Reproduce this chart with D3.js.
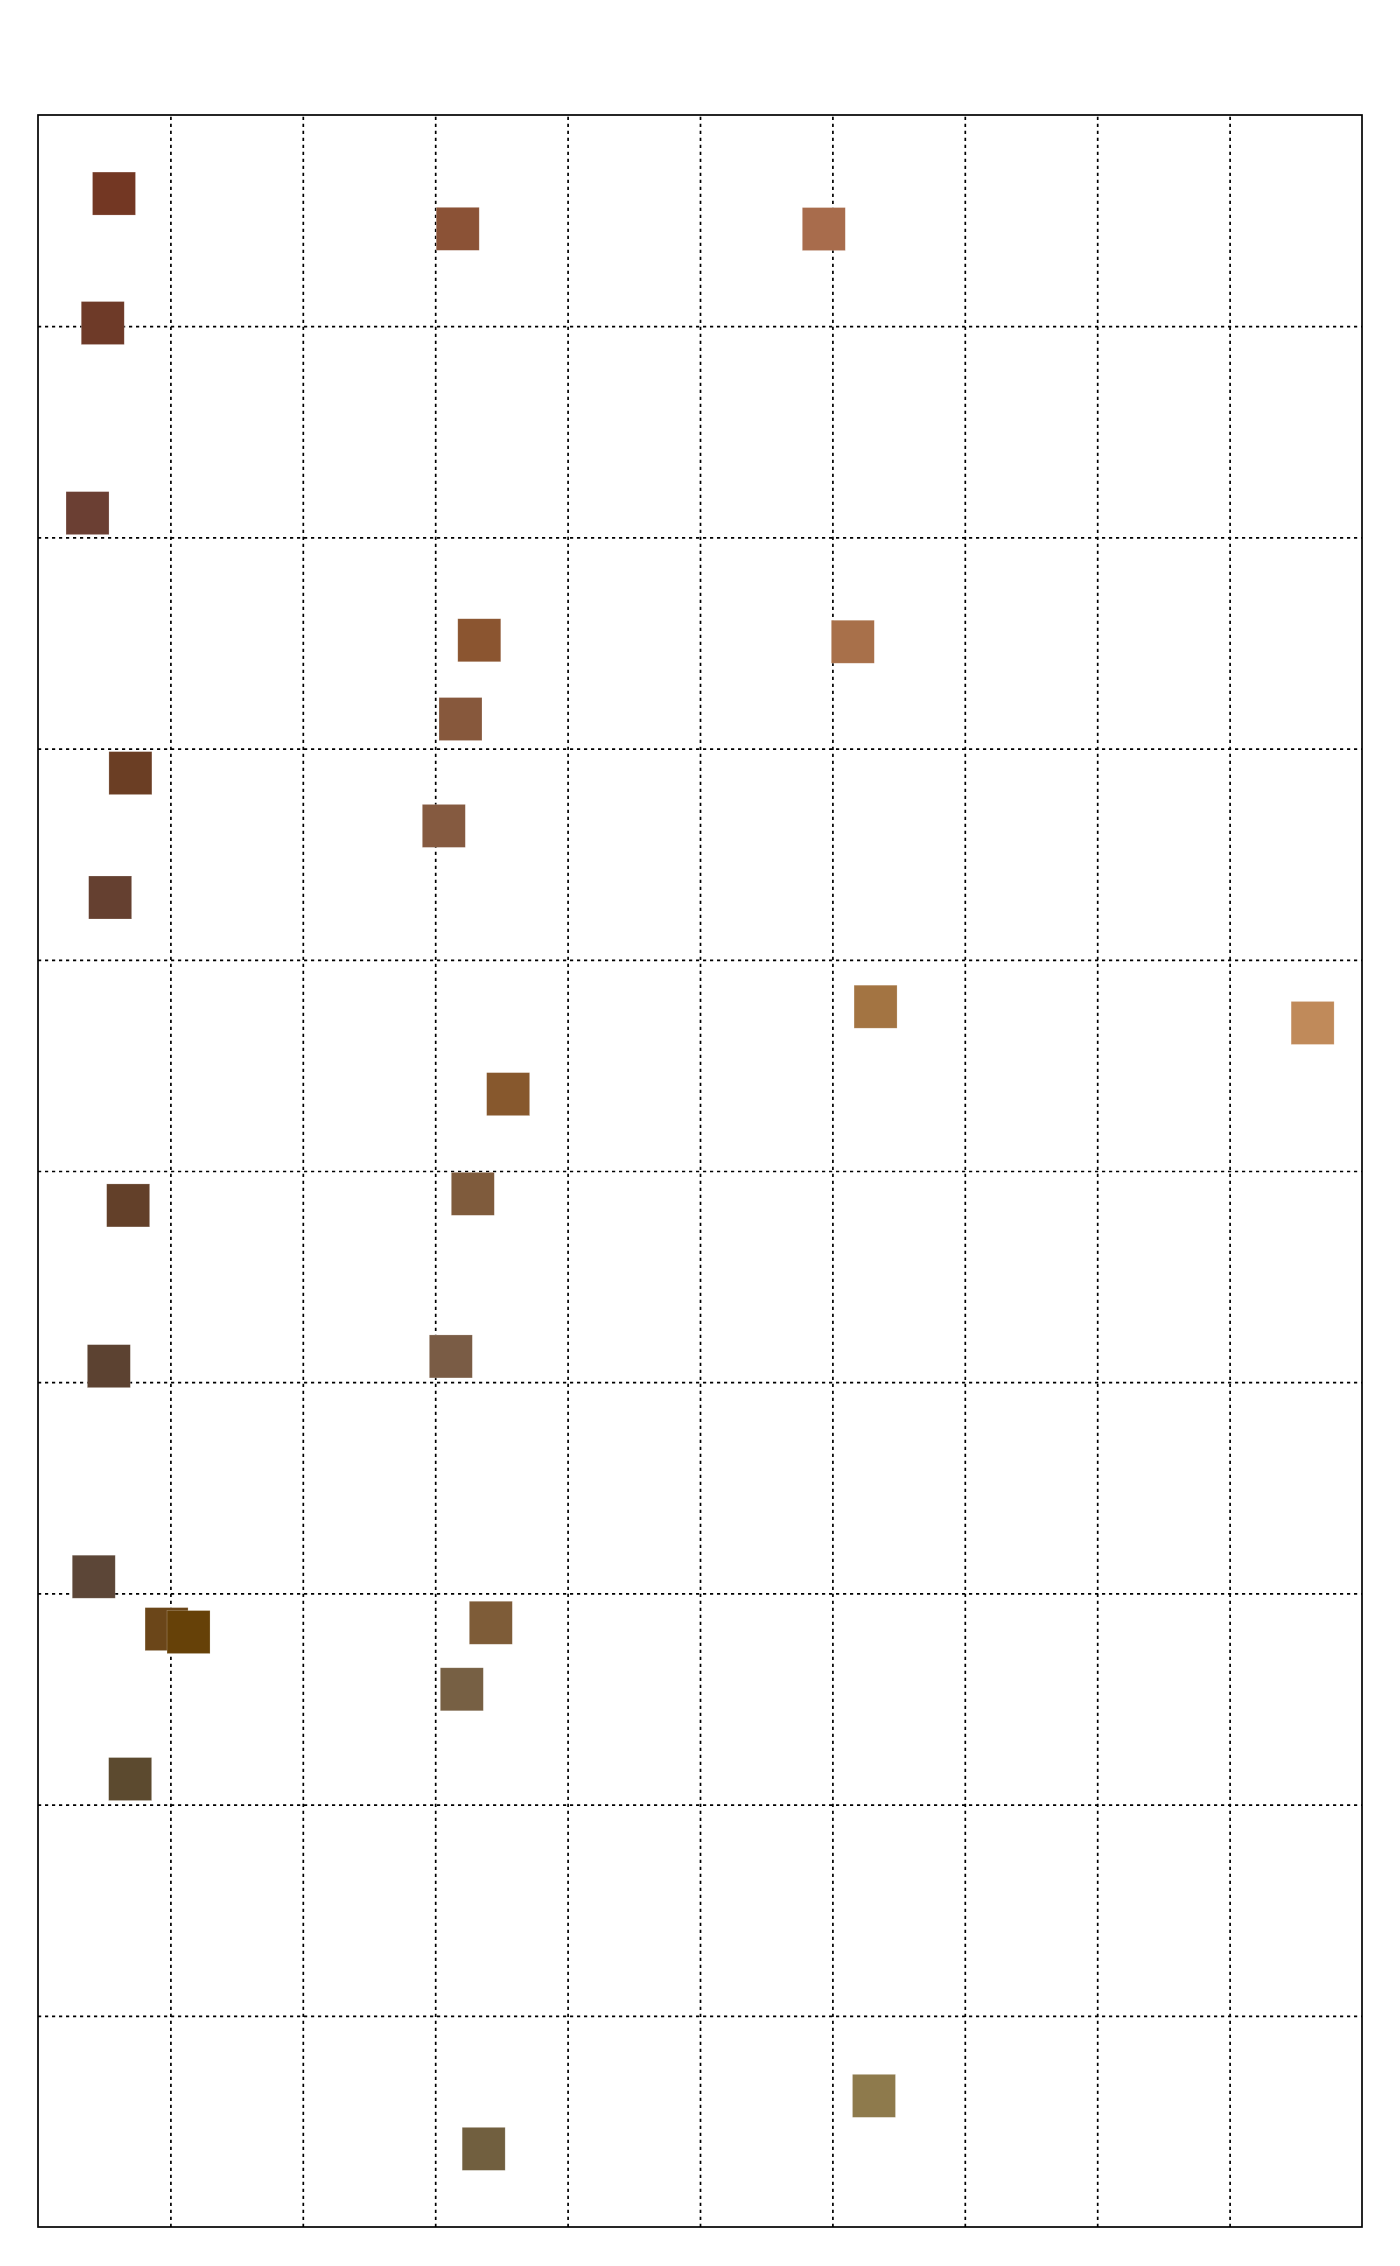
<!DOCTYPE html>
<html>
<head>
<meta charset="utf-8">
<script src="https://cdn.jsdelivr.net/npm/d3@7"></script>
<style>
  html, body { margin: 0; padding: 0; background: #ffffff; }
  svg { display: block; }
</style>
</head>
<body>
<div id="chart"></div>
<script>
// Data (x and y in grid units, 0..10, y upward)
const xValues = [0.574, 3.170, 5.935, 0.489, 0.374, 3.333, 6.154, 3.191, 0.698, 3.065,
                 0.545, 6.326, 9.627, 3.551, 0.681, 3.284, 0.535, 3.118, 0.421, 0.971,
                 1.137, 3.420, 3.201, 0.696, 6.314, 3.366];
const yValues = [9.628, 9.461, 9.460, 9.015, 8.115, 7.513, 7.506, 7.140, 6.884, 6.634,
                 6.295, 5.778, 5.701, 5.364, 4.837, 4.892, 4.076, 4.122, 3.079, 2.831,
                 2.817, 2.861, 2.546, 2.121, 0.621, 0.370];
const pointColors = ["#733723", "#8b5236", "#a86c4c", "#6e3a28", "#6b3f33", "#8b5530", "#a8704a",
                     "#87583c", "#6b3e24", "#855a40", "#654030", "#a37442", "#c08a5a", "#87582d",
                     "#634029", "#7f5b3c", "#5c4231", "#7a5c45", "#5c4637", "#6b4619", "#664108",
                     "#7e5c38", "#776044", "#5c4a2f", "#8e7a4c", "#715f3f"];
const xTicks = [1, 2, 3, 4, 5, 6, 7, 8, 9];
const yTicks = [1, 2, 3, 4, 5, 6, 7, 8, 9];

const W = 1400, H = 2266;
const margin = { top: 115, right: 38, bottom: 39, left: 38 };
const innerW = W - margin.left - margin.right;
const innerH = H - margin.top - margin.bottom;
const markSize = 43;

const svg = d3.select("#chart").append("svg")
  .attr("width", W).attr("height", H);
const g = svg.append("g").attr("transform", `translate(${margin.left},${margin.top})`);

const x = d3.scaleLinear().domain([0, 10]).range([0, innerW]);
const y = d3.scaleLinear().domain([0, 10]).range([innerH, 0]);

// Grid lines through axes
const xGrid = g.append("g").attr("transform", `translate(0,${innerH})`)
  .call(d3.axisBottom(x).tickValues(xTicks).tickSize(-innerH).tickFormat(""));
const yGrid = g.append("g")
  .call(d3.axisLeft(y).tickValues(yTicks).tickSize(-innerW).tickFormat(""));
[xGrid, yGrid].forEach(ax => {
  ax.select(".domain").remove();
  ax.selectAll(".tick line")
    .attr("stroke", "#000")
    .attr("stroke-width", 1.7)
    .attr("stroke-dasharray", "3.2,3.8");
});

// Points as squares
const data = xValues.map((v, i) => ({ x: v, y: yValues[i], c: pointColors[i] }));
g.append("g").selectAll("rect").data(data).join("rect")
  .attr("x", d => x(d.x) - markSize / 2)
  .attr("y", d => y(d.y) - markSize / 2)
  .attr("width", markSize)
  .attr("height", markSize)
  .attr("fill", d => d.c)
  .attr("stroke", "rgba(255,255,255,0.35)")
  .attr("stroke-width", 0.6);

// Frame
g.append("rect")
  .attr("x", 0).attr("y", 0)
  .attr("width", innerW).attr("height", innerH)
  .attr("fill", "none")
  .attr("stroke", "#000")
  .attr("stroke-width", 1.7);
</script>
</body>
</html>
